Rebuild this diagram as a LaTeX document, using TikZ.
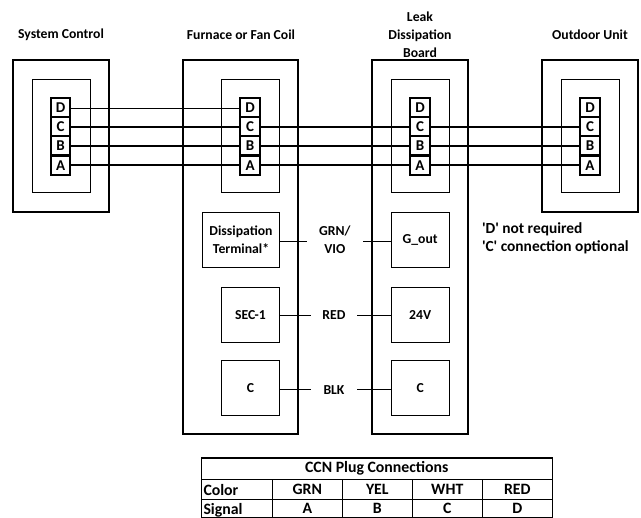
\documentclass[tikz,border=0pt]{standalone}
\usepackage{fontspec}
\setmainfont{Carlito}
\tikzset{
  every node/.style={font=\bfseries\fontsize{13.7}{18}\selectfont, inner sep=0pt, outer sep=0pt, align=center},
  outerbox/.style={draw, line width=2pt, rectangle},
  innerbox/.style={draw, line width=0.9pt, rectangle},
  cellbox/.style={draw, line width=2pt, rectangle, minimum width=19.5pt, minimum height=19pt, font=\bfseries\fontsize{15}{16}\selectfont},
  wire/.style={line width=1.4pt},
  thinwire/.style={line width=1.1pt},
  tablecell/.style={draw, line width=1.2pt, rectangle, font=\bfseries\fontsize{15.8}{16}\selectfont},
  blabel/.style={font=\bfseries\fontsize{13.7}{18}\selectfont},
}
\newcommand{\mybox}[7]{% style, name, cx, cy, w, h, text
  \node[#1, minimum width=#5pt, minimum height=#6pt] (#2) at (#3,#4) {#7};}
\newcommand{\mycells}[2]{% prefix, cx
  \node[cellbox] (#1D) at (#2,107.2) {D};
  \node[cellbox] (#1C) at (#2,126.3) {C};
  \node[cellbox] (#1B) at (#2,146) {B};
  \node[cellbox] (#1A) at (#2,165.5) {A};}
\begin{document}
\begin{tikzpicture}[x=1pt,y=-1pt]
\useasboundingbox (0,0) rectangle (641,518);
% titles
\node[blabel] (t1) at (61,34.5) {System Control};
\node[blabel] (t2) at (241,34.5) {Furnace or Fan Coil};
\node[blabel, align=center] (t3) at (420,34.5) {Leak\\Dissipation\\Board};
\node[blabel] (t4) at (590,34.5) {Outdoor Unit};
% outer
\mybox{outerbox}{sc}{61}{136}{96}{152}{}
\mybox{outerbox}{fu}{240.5}{247}{115}{374}{}
\mybox{outerbox}{ld}{420}{247}{96.5}{374}{}
\mybox{outerbox}{ou}{590}{136}{95.5}{152}{}
% inner
\mybox{innerbox}{scin}{61.2}{136.2}{57.5}{113.5}{}
\mybox{innerbox}{fuin}{250.2}{136.2}{58.5}{113.5}{}
\mybox{innerbox}{ldin}{420.2}{136.2}{57.5}{113.5}{}
\mybox{innerbox}{ouin}{590}{136.2}{58}{113.5}{}
% plugs
\mycells{a}{60.7}
\mycells{b}{250.2}
\mycells{c}{420}
\mycells{d}{590}
% plug wires
\draw[thinwire] (aD.east |- 0,108.1) -- (bD.west |- 0,108.1);
\foreach \s/\y in {C/126.9,B/145.9,A/164.9}{
  \draw[wire] (a\s.east |- 0,\y) -- (b\s.west |- 0,\y);
  \draw[wire] (b\s.east |- 0,\y) -- (c\s.west |- 0,\y);
  \draw[wire] (c\s.east |- 0,\y) -- (d\s.west |- 0,\y);
}
% terminal boxes
\mybox{innerbox}{dt}{241}{240}{77.4}{54.6}{Dissipation\\Terminal*}
\mybox{innerbox}{sec}{250.5}{314.8}{58.4}{55}{SEC-1}
\mybox{innerbox}{cl}{250.5}{387.8}{58.4}{55}{C}
\mybox{innerbox}{gout}{420.2}{240}{57.5}{54.6}{G\_out}
\mybox{innerbox}{tf}{420.2}{314.8}{57.5}{55}{24V}
\mybox{innerbox}{cr}{420.2}{387.8}{57.5}{55}{C}
% wire labels
\node[blabel, minimum width=56.3pt] (gv) at (334.9,240) {GRN/\\VIO};
\node[blabel, minimum width=46pt] (red) at (334,315.5) {RED};
\node[blabel, minimum width=46pt] (blk) at (334,390) {BLK};
\draw[thinwire] (dt.east |- 0,241.5) -- (gv.west |- 0,241.5);
\draw[thinwire] (gv.east |- 0,241.5) -- (gout.west |- 0,241.5);
\draw[thinwire] (sec.east |- 0,315.5) -- (red.west);
\draw[thinwire] (red.east) -- (tf.west |- 0,315.5);
\draw[thinwire] (cl.east |- 0,389.7) -- (blk.west |- 0,389.7);
\draw[thinwire] (blk.east |- 0,389.7) -- (cr.west |- 0,389.7);
% note
\node[font=\bfseries\fontsize{15.4}{17.5}\selectfont, align=left, anchor=west] (note) at (482,238.5) {\textquotesingle D\textquotesingle{} not required\\\textquotesingle C\textquotesingle{} connection optional};
% table
\mybox{tablecell}{tt}{376.8}{468.6}{351}{21.3}{CCN Plug Connections}
\mybox{tablecell}{r1}{236.8}{489.3}{71}{20}{}
\node[font=\bfseries\fontsize{15.8}{16}\selectfont, anchor=west] (color) at (203.5,490) {Color};
\mybox{tablecell}{r2}{307.3}{489.8}{70}{20}{GRN}
\mybox{tablecell}{r3}{377.3}{489.8}{70}{20}{YEL}
\mybox{tablecell}{r4}{447.3}{489.8}{70}{20}{WHT}
\mybox{tablecell}{r5}{517.3}{489.8}{70}{20}{RED}
\mybox{tablecell}{s1}{236.8}{508.8}{71}{18.2}{}
\node[font=\bfseries\fontsize{15.8}{16}\selectfont, anchor=west] (signal) at (203.5,510) {Signal};
\mybox{tablecell}{s2}{307.3}{508.8}{70}{18.2}{A}
\mybox{tablecell}{s3}{377.3}{508.8}{70}{18.2}{B}
\mybox{tablecell}{s4}{447.3}{508.8}{70}{18.2}{C}
\mybox{tablecell}{s5}{517.3}{508.8}{70}{18.2}{D}
\end{tikzpicture}
\end{document}
